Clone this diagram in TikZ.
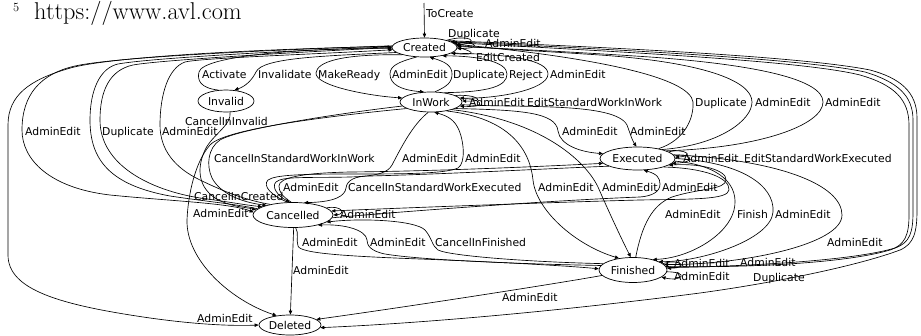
\documentclass[tikz,border=0pt]{standalone}
\usepackage{fontspec}
\usetikzlibrary{arrows.meta,shapes.geometric}
\newfontfamily\dejavu{DejaVu Sans}
\newcommand\labfont{\dejavu\fontsize{10.8}{13}\selectfont}
\begin{document}
\begin{tikzpicture}[x=1pt,y=-1pt,
  st/.style={draw, ellipse, line width=0.7pt, inner sep=0pt, font=\labfont},
  e/.style={line width=0.65pt, -{Triangle[length=4pt,width=3.4pt]}},
  lab/.style={font=\labfont, inner sep=0pt, anchor=base west}]
\useasboundingbox (0,0) rectangle (921,335);
% header
\node[anchor=base west, inner sep=0pt, font=\fontsize{12.5}{13}\selectfont] (fnum) at (13,11) {5};
\node[anchor=base west, inner sep=0pt, font=\fontsize{24.3}{26}\selectfont] (hdr) at (34,19.5) {https://www.avl.com};
% states
\node[st, minimum width=65pt, minimum height=19pt] (Created) at (424.5,47.5) {Created};
\node[st, minimum width=62pt, minimum height=20pt] (InWork) at (431,102) {InWork};
\node[st, minimum width=56pt, minimum height=22pt] (Invalid) at (226,101) {Invalid};
\node[st, minimum width=75pt, minimum height=23pt] (Executed) at (637.5,158.5) {Executed};
\node[st, minimum width=80pt, minimum height=25pt] (Cancelled) at (293,215) {Cancelled};
\node[st, minimum width=68pt, minimum height=25pt] (Finished) at (633,270) {Finished};
\node[st, minimum width=62pt, minimum height=20pt] (Deleted) at (290,325) {Deleted};
\coordinate (tc) at (424,3);
% ToCreate
\draw[e] (tc) -- (Created.north);
% Created self loops
\draw[e] (Created.18) .. controls (468,34) and (482,42) .. (Created.4);
\draw[e] (Created.8) .. controls (472,40) and (486,48) .. (Created.-2);
\draw[e] (Created.0) .. controls (470,50) and (482,56) .. (Created.-12);
% Activate / Invalidate
\draw[e] (Invalid.125) .. controls (200,88) and (197,80) .. (199,72) .. controls (203,56) and (300,48) .. (Created.182);
\draw[e] (Created.190) .. controls (320,56) and (262,58) .. (256,72) .. controls (252,80) and (246,86) .. (Invalid.52);
% Created <-> InWork
\draw[e] (Created.198) .. controls (340,54) and (317,62) .. (316,73) .. controls (315,86) and (370,96) .. (InWork.172);
\draw[e] (Created.230) .. controls (398,62) and (390,66) .. (390,74) .. controls (390,84) and (400,90) .. (InWork.125);
\draw[e] (InWork.68) .. controls (448,86) and (452,82) .. (452,74) .. controls (452,66) and (446,62) .. (Created.-62);
\draw[e] (InWork.35) .. controls (490,92) and (507,86) .. (507,74) .. controls (507,62) and (480,56) .. (Created.-25);
\draw[e] (Created.-12) .. controls (510,54) and (548,60) .. (548,74) .. controls (548,90) and (495,99) .. (InWork.8);
% InWork self loops
\draw[e] (InWork.15) .. controls (476,94) and (488,102) .. (InWork.2);
\draw[e] (InWork.6) .. controls (478,97) and (492,108) .. (InWork.-8);
% Executed -> Created
\draw[e] (Executed.25) .. controls (685,140) and (694,118) .. (693,102) .. controls (690,78) and (600,58) .. (Created.6);
\draw[e] (Executed.20) .. controls (720,145) and (752,120) .. (752,102) .. controls (752,80) and (700,62) .. (600,55) .. controls (540,51) and (480,48) .. (Created.4);
\draw[e] (Executed.15) .. controls (760,148) and (823,125) .. (823,102) .. controls (823,80) and (760,65) .. (650,57) .. controls (560,51) and (490,48) .. (Created.2);
% InWork -> Executed
\draw[e] (InWork.-15) .. controls (520,110) and (556,112) .. (558,131) .. controls (560,145) and (580,152) .. (Executed.172);
\draw[e] (InWork.-5) .. controls (520,108) and (615,102) .. (627,125) .. controls (630,133) and (632,140) .. (Executed.95);
% Executed self loops
\draw[e] (Executed.12) .. controls (684,148) and (696,156) .. (Executed.2);
\draw[e] (Executed.4) .. controls (688,152) and (700,162) .. (Executed.-8);
% InWork -> Finished
\draw[e] (InWork.-30) .. controls (510,118) and (530,150) .. (533,180) .. controls (536,210) and (575,245) .. (Finished.140);
\draw[e] (InWork.-20) .. controls (540,120) and (585,160) .. (598,187) .. controls (608,210) and (622,240) .. (Finished.100);
% Executed <-> Finished
\draw[e] (Finished.78) .. controls (642,225) and (652,205) .. (672,197) .. controls (700,188) and (725,190) .. (726,180) .. controls (727,170) and (700,163) .. (Executed.-12);
\draw[e] (Executed.-4) .. controls (720,165) and (740,185) .. (734,210) .. controls (728,235) and (690,258) .. (Finished.28);
\draw[e] (Executed.0) .. controls (740,162) and (775,185) .. (773,212) .. controls (771,240) and (700,262) .. (Finished.18);
\draw[e] (Executed.6) .. controls (780,160) and (842,185) .. (842,215) .. controls (842,245) and (740,265) .. (Finished.10);
% Executed <-> Cancelled
\draw[e] (Executed.-18) .. controls (705,168) and (730,178) .. (729,190) .. controls (728,200) and (690,199) .. (640,200) .. controls (560,202) and (400,208) .. (Cancelled.6);
\draw[e] (Cancelled.-4) .. controls (420,210) and (560,200) .. (640,197) .. controls (652,196) and (660,192) .. (660,184) .. controls (660,178) and (657,174) .. (Executed.-62);
% Cancelled top loops
\draw[e] (Cancelled.112) .. controls (272,196) and (262,186) .. (268,180) .. controls (275,175) and (300,174) .. (350,174) .. controls (400,174) and (445,174) .. (458,168) .. controls (466,163) and (464,140) .. (458,128) .. controls (454,120) and (448,116) .. (InWork.-72);
\draw[e] (InWork.-105) .. controls (412,125) and (400,150) .. (392,165) .. controls (388,172) and (380,176) .. (350,177) .. controls (310,178) and (282,176) .. (276,182) .. controls (271,187) and (278,196) .. (Cancelled.104);
\draw[e] (Cancelled.98) .. controls (282,196) and (279,192) .. (279,186) .. controls (279,178) and (300,173) .. (350,172) .. controls (450,171) and (570,165) .. (Executed.188);
\draw[e] (Executed.195) .. controls (560,168) and (450,174) .. (370,176) .. controls (355,176) and (347,180) .. (346,188) .. controls (345,196) and (335,202) .. (Cancelled.48);
% InWork -> Cancelled / Deleted
\draw[e] (InWork.188) .. controls (350,112) and (240,128) .. (220,140) .. controls (208,148) and (206,165) .. (212,178) .. controls (220,193) and (240,202) .. (Cancelled.160);
\draw[e] (InWork.195) .. controls (340,115) and (225,128) .. (210,145) .. controls (195,162) and (188,195) .. (187,220) .. controls (186,260) and (230,300) .. (Deleted.145);
% Invalid -> Cancelled
\draw[e] (Invalid.-70) .. controls (232,125) and (212,135) .. (205,150) .. controls (198,165) and (196,185) .. (215,198) .. controls (230,207) and (245,207) .. (Cancelled.172);
% left bundle
\draw[e] (Created.178) .. controls (300,48) and (110,55) .. (67,69) .. controls (30,80) and (8,95) .. (8,125) -- (8,255) .. controls (8,290) and (60,305) .. (150,318) .. controls (200,325) and (235,326) .. (Deleted.180);
\draw[e] (Created.177) .. controls (300,49) and (120,56) .. (75,66) .. controls (40,74) and (22,95) .. (22,130) .. controls (22,160) and (50,188) .. (110,195) .. controls (170,201) and (230,203) .. (Cancelled.176);
\draw[e] (Cancelled.170) .. controls (235,204) and (210,202) .. (170,196) .. controls (110,185) and (90,160) .. (90,120) .. controls (90,90) and (100,68) .. (118,64) .. controls (150,58) and (300,50) .. (Created.179);
\draw[e] (Created.180) .. controls (300,52) and (160,60) .. (133,65) .. controls (110,70) and (100,90) .. (100,120) .. controls (100,165) and (150,190) .. (200,198) .. controls (230,202) and (245,205) .. (Cancelled.165);
\draw[e] (Cancelled.155) .. controls (245,200) and (225,192) .. (200,180) .. controls (175,168) and (160,150) .. (160,125) .. controls (160,95) and (168,68) .. (185,62) .. controls (200,58) and (320,54) .. (Created.184);
% Cancelled self loop, Cancelled -> Deleted
\draw[e] (Cancelled.12) .. controls (342,205) and (346,214) .. (Cancelled.0);
\draw[e] (Cancelled.-87) -- (Deleted.88);
% Cancelled <-> Finished
\draw[e] (Cancelled.-78) .. controls (299,233) and (296,240) .. (298,246) .. controls (300,253) and (340,256) .. (420,259) .. controls (500,262) and (570,266) .. (Finished.178);
\draw[e] (Finished.172) .. controls (520,264) and (420,260) .. (385,254) .. controls (370,251) and (367,245) .. (367,240) .. controls (366,230) and (345,224) .. (Cancelled.-22);
\draw[e] (Finished.168) .. controls (530,262) and (450,256) .. (438,250) .. controls (432,246) and (432,238) .. (425,230) .. controls (415,220) and (360,218) .. (Cancelled.-12);
% Finished self loops
\draw[e] (Finished.12) .. controls (680,258) and (690,268) .. (Finished.3);
\draw[e] (Finished.-3) .. controls (690,272) and (682,282) .. (Finished.-14);
% far right
\draw[e] (Finished.6) .. controls (760,268) and (850,262) .. (890,250) .. controls (905,245) and (909,235) .. (909,215) -- (909,125) .. controls (909,100) and (895,85) .. (860,75) .. controls (800,60) and (600,51) .. (Created.10);
\draw[e] (Finished.4) .. controls (760,266) and (855,260) .. (895,248) .. controls (910,243) and (913,232) .. (913,212) -- (913,120) .. controls (913,96) and (898,82) .. (865,72) .. controls (800,58) and (600,49) .. (Created.13);
\draw[e] (Created.16) .. controls (600,47) and (800,56) .. (870,70) .. controls (900,78) and (917,92) .. (917,118) -- (917,210) .. controls (917,232) and (914,244) .. (900,250) .. controls (860,265) and (780,282) .. (700,293) .. controls (600,306) and (450,322) .. (Deleted.-5);
% Finished -> Deleted
\draw[e] (Finished.-170) .. controls (560,283) and (420,305) .. (Deleted.12);
% labels
\node[lab] (l1) at (426,17) {ToCreate};
\node[lab] (l2) at (448,37) {Duplicate};
\node[lab] (l3) at (485,47) {AdminEdit};
\node[lab] (l4) at (476,61) {EditCreated};
\node[lab] (l5) at (202,78) {Activate};
\node[lab] (l6) at (258,78) {Invalidate};
\node[lab] (l7) at (318,78) {MakeReady};
\node[lab] (l8) at (392,78) {AdminEdit};
\node[lab] (l9) at (453,78) {Duplicate};
\node[lab] (l10) at (509,78) {Reject};
\node[lab] (l11) at (550,78) {AdminEdit};
\node[lab] (l12) at (469,106) {AdminEdit};
\node[lab] (l13) at (527,106) {EditStandardWorkInWork};
\node[lab] (l14) at (695,106) {Duplicate};
\node[lab] (l15) at (755,106) {AdminEdit};
\node[lab] (l16) at (825,106) {AdminEdit};
\node[lab] (l17) at (25,135) {AdminEdit};
\node[lab] (l18) at (102,135) {Duplicate};
\node[lab] (l19) at (162,135) {AdminEdit};
\node[lab] (l20) at (185,125) {CancelInInvalid};
\node[lab] (l21) at (562,135) {AdminEdit};
\node[lab] (l22) at (630,135) {AdminEdit};
\node[lab] (l23) at (214,162) {CancelInStandardWorkInWork};
\node[lab] (l24) at (402,162) {AdminEdit};
\node[lab] (l25) at (465,162) {AdminEdit};
\node[lab] (l26) at (683,162) {AdminEdit};
\node[lab] (l27) at (744,162) {EditStandardWorkExecuted};
\node[lab] (l28) at (283,191) {AdminEdit};
\node[lab] (l29) at (348,191) {CancelInStandardWorkExecuted};
\node[lab] (l30) at (538,191) {AdminEdit};
\node[lab] (l31) at (602,191) {AdminEdit};
\node[lab] (l32) at (662,191) {AdminEdit};
\node[lab] (l33) at (194,200) {CancelInCreated};
\node[lab] (l34) at (193,217) {AdminEdit};
\node[lab] (l35) at (340,218) {AdminEdit};
\node[lab] (l36) at (665,218) {AdminEdit};
\node[lab] (l37) at (737,218) {Finish};
\node[lab] (l38) at (775,218) {AdminEdit};
\node[lab] (l39) at (302,246) {AdminEdit};
\node[lab] (l40) at (370,246) {AdminEdit};
\node[lab] (l41) at (435,246) {CancelInFinished};
\node[lab] (l42) at (827,246) {AdminEdit};
\node[lab] (l43) at (293,274) {AdminEdit};
\node[lab] (l44) at (674,267) {AdminEdit};
\node[lab] (l45) at (674,280) {AdminEdit};
\node[lab] (l46) at (740,266) {AdminEdit};
\node[lab] (l47) at (753,281) {Duplicate};
\node[lab] (l48) at (502,301) {AdminEdit};
\node[lab] (l49) at (197,322) {AdminEdit};
\end{tikzpicture}
\end{document}
